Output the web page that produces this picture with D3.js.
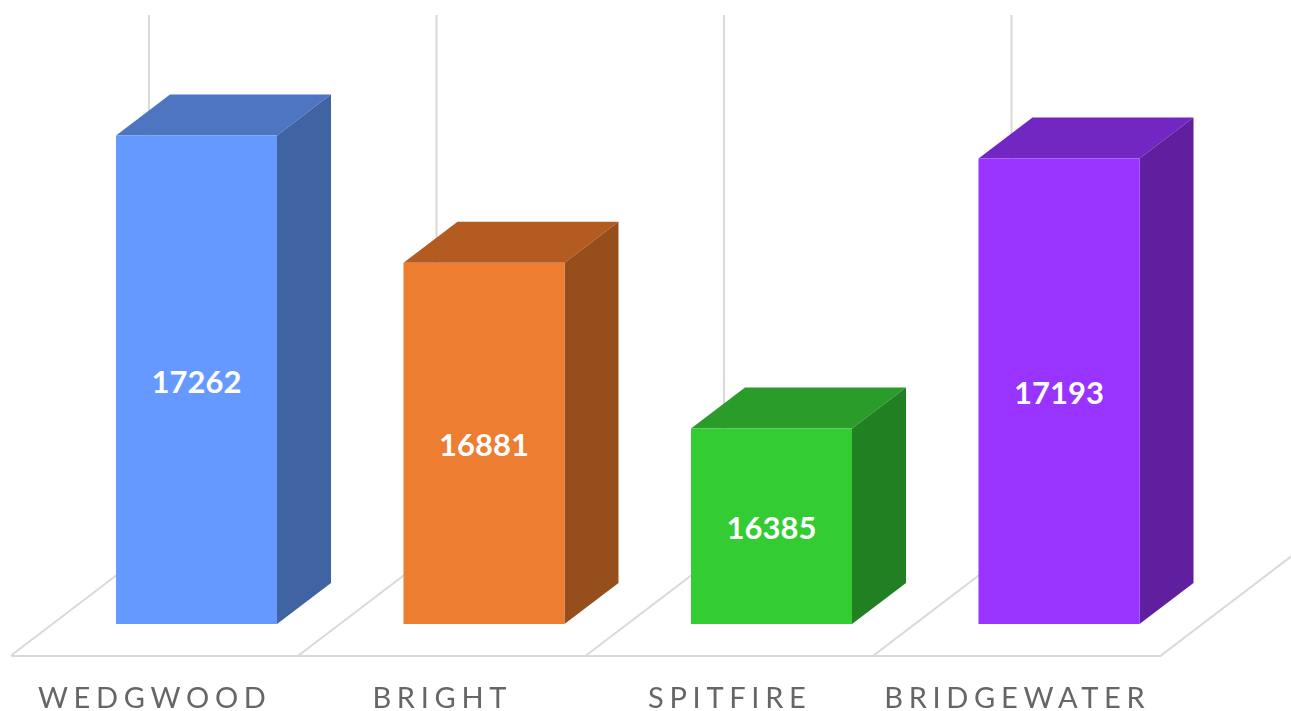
<!DOCTYPE html>
<html>
<head>
<meta charset="utf-8">
<script src="https://cdn.jsdelivr.net/npm/d3@7"></script>
<style>
  html, body { margin: 0; padding: 0; background: #fff; overflow: hidden; }
  svg { display: block; filter: blur(0.55px); }
  .tick text { font-family: Lato, sans-serif; font-size: 29px; fill: #666; letter-spacing: 5.7px; }
  .value { font-family: Lato, sans-serif; font-weight: 700; font-size: 31px; fill: #fff; text-anchor: middle; }
</style>
</head>
<body>
<div id="chart"></div>
<script>
// Chart data
const categories = ["WEDGWOOD", "BRIGHT", "SPITFIRE", "BRIDGEWATER"];
const values = [17262, 16881, 16385, 17193];
const frontColors = ["#6699ff", "#ed7d31", "#33cc33", "#9933ff"];
const topColors = ["#4e75c2", "#b35b20", "#2a9c2a", "#7226c2"];
const sideColors = ["#3f63a3", "#964f1c", "#218021", "#5f1f9e"];

const width = 1291;
const height = 711;

// Fake 3D: offsets of the bar depth and the floor depth
const barDepth = { x: 54, y: 41 };
const floorDepth = { x: 138, y: 105 };
const barOffset = 105;
const barWidth = 161;
const floorY = 655.5;

const svg = d3.select("#chart")
  .append("svg")
  .attr("width", width)
  .attr("height", height);

const x = d3.scaleBand().domain(categories).range([11, 1161]);
const y = d3.scaleLinear().domain([15800, 17500]).range([624, 56]);

const rows = categories.map((name, i) => ({
  name,
  value: values[i],
  front: frontColors[i],
  top: topColors[i],
  side: sideColors[i]
}));

// Floor diagonals, one per category plus the closing one on the right
const grid = svg.append("g")
  .attr("fill", "none")
  .attr("stroke", "#d9d9d9")
  .attr("stroke-width", 2);

grid.selectAll(".diag")
  .data(categories.map(c => x(c)).concat(x.range()[1]))
  .join("line")
  .attr("class", "diag")
  .attr("x1", d => d)
  .attr("y1", floorY)
  .attr("x2", d => d + floorDepth.x)
  .attr("y2", floorY - floorDepth.y);

// Vertical gridlines on the back wall
grid.selectAll(".wall")
  .data(categories)
  .join("line")
  .attr("class", "wall")
  .attr("x1", d => x(d) + floorDepth.x)
  .attr("x2", d => x(d) + floorDepth.x)
  .attr("y1", floorY - floorDepth.y)
  .attr("y2", y(17500) - barDepth.y);

// Category axis is the front edge of the floor
const xAxis = svg.append("g")
  .attr("transform", `translate(0,${floorY})`)
  .call(d3.axisBottom(x).tickSize(0).tickSizeOuter(0).tickPadding(32));

xAxis.select(".domain")
  .attr("stroke", "#d9d9d9")
  .attr("stroke-width", 2);

// Bars
const bars = svg.selectAll(".bar")
  .data(rows)
  .join("g")
  .attr("class", "bar")
  .attr("transform", d => `translate(${x(d.name) + barOffset},0)`);

bars.append("path")
  .attr("fill", d => d.top)
  .attr("d", d => {
    const t = y(d.value);
    return `M0,${t}L${barDepth.x},${t - barDepth.y}H${barWidth + barDepth.x}L${barWidth},${t}Z`;
  });

bars.append("path")
  .attr("fill", d => d.side)
  .attr("d", d => {
    const t = y(d.value);
    const b = y.range()[0];
    return `M${barWidth},${t}L${barWidth + barDepth.x},${t - barDepth.y}V${b - barDepth.y}L${barWidth},${b}Z`;
  });

bars.append("rect")
  .attr("fill", d => d.front)
  .attr("width", barWidth)
  .attr("y", d => y(d.value))
  .attr("height", d => y.range()[0] - y(d.value));

// Value labels in the middle of the front face
bars.append("text")
  .attr("class", "value")
  .attr("x", barWidth / 2)
  .attr("y", d => (y(d.value) + y.range()[0]) / 2 + 13)
  .text(d => d.value);
</script>
</body>
</html>
